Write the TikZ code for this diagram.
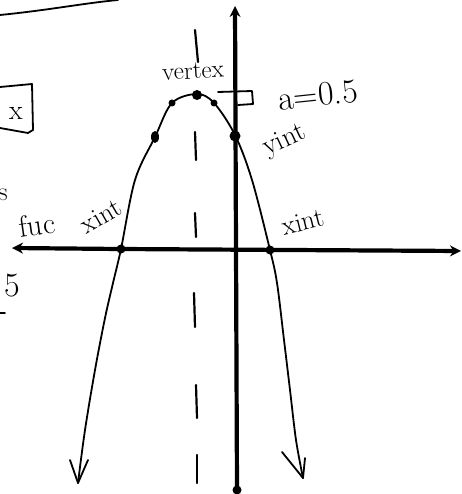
\documentclass[tikz,border=0pt]{standalone}
\usetikzlibrary{arrows.meta,shapes.geometric}
\begin{document}
\begin{tikzpicture}[x=1pt,y=-1pt,
  axis/.style={line width=4.2pt,-{Stealth[length=11pt,width=11pt]}},
  curve/.style={line width=1.8pt,line cap=round,line join=round},
  hand/.style={font=\fontsize{22}{22}\selectfont,inner sep=0pt},
  sym/.style={line width=2.2pt,line cap=round},
  pt/.style={circle,fill=black,inner sep=0pt}]
\useasboundingbox (0,0) rectangle (461,494);
% top-left stroke
\draw[curve] (0,15) .. controls (50,10) and (85,3) .. (118,0);
% box with x
\draw[curve] (0,87) -- (32,84) -- (33,130) -- (28,133) -- (0,128);
\node[hand,font=\fontsize{28}{28}\selectfont] (xbox) at (16,113) {x};
% left margin fragments
\node[hand,anchor=east,font=\fontsize{26}{26}\selectfont] (sfrag) at (8,195) {s};
\node[hand,font=\fontsize{30}{30}\selectfont,rotate=8] (fuc) at (37,225) {fuc};
\node[hand,font=\fontsize{34}{34}\selectfont] (five) at (12,286) {5};
\draw[curve] (0,313) -- (5,313);
% axes
\coordinate (xl) at (12,248);
\coordinate (xr) at (461,251);
\coordinate (yt) at (235,6);
\coordinate (yb) at (237,490);
\draw[axis] (120,249) -- (xl);
\draw[axis] (120,249) -- (xr);
\draw[axis] (yb) -- (yt);
\node[pt,minimum size=9pt] (ybot) at (237,490) {};
% symmetry (dashed) line segments
\draw[sym] (195,30) -- (198,62);
\draw[sym] (195,132) -- (196,160);
\draw[sym] (195,213) -- (196,237);
\draw[sym] (194,293) -- (195,327);
\draw[sym] (196,385) -- (197,418);
\draw[sym] (197,455) -- (197,483);
% parabola
\coordinate (ltip) at (78,483);
\coordinate (rtip) at (303,478);
\draw[curve] plot[smooth,tension=0.55] coordinates {(ltip) (85,430) (95,370) (105,318) (113,283) (121,249) (135,180) (155,137) (172,103) (197,94) (214,103) (235,135) (252,180) (270,250) (277,283) (284,340) (290,390) (296,440) (rtip)};
% arrowheads (open V)
\draw[curve] (70,460) -- (ltip) -- (88,460);
\draw[curve] (282,452) -- (rtip) -- (305,458);
% key points
\node[pt,minimum size=10pt] (vertex) at (197,95) {};
\node[pt,minimum size=7pt] (p1) at (172,103) {};
\node[pt,minimum size=7pt] (p2) at (214,103) {};
\node[ellipse,fill=black,inner sep=0pt,minimum width=8pt,minimum height=12pt] (p3) at (155,137) {};
\node[pt,minimum size=11pt] (yint) at (235,136) {};
\node[pt,minimum size=9pt] (xint1) at (121,249) {};
\node[pt,minimum size=9pt] (xint2) at (270,250) {};
% right-angle marker
\draw[curve] (218,92) -- (252,91) -- (253,104) -- (238,105);
% labels
\node[hand,font=\fontsize{25}{25}\selectfont,rotate=3] (vlab) at (193,71) {vertex};
\node[hand,font=\fontsize{34}{34}\selectfont,rotate=6] (alab) at (318,95) {a=0.5};
\node[hand,font=\fontsize{28}{28}\selectfont,rotate=25] (ylab) at (285,141) {yint};
\node[hand,font=\fontsize{27}{27}\selectfont,rotate=30] (xlab1) at (101,216) {xint};
\node[hand,font=\fontsize{27}{27}\selectfont,rotate=14] (xlab2) at (303,222) {xint};
\end{tikzpicture}
\end{document}
